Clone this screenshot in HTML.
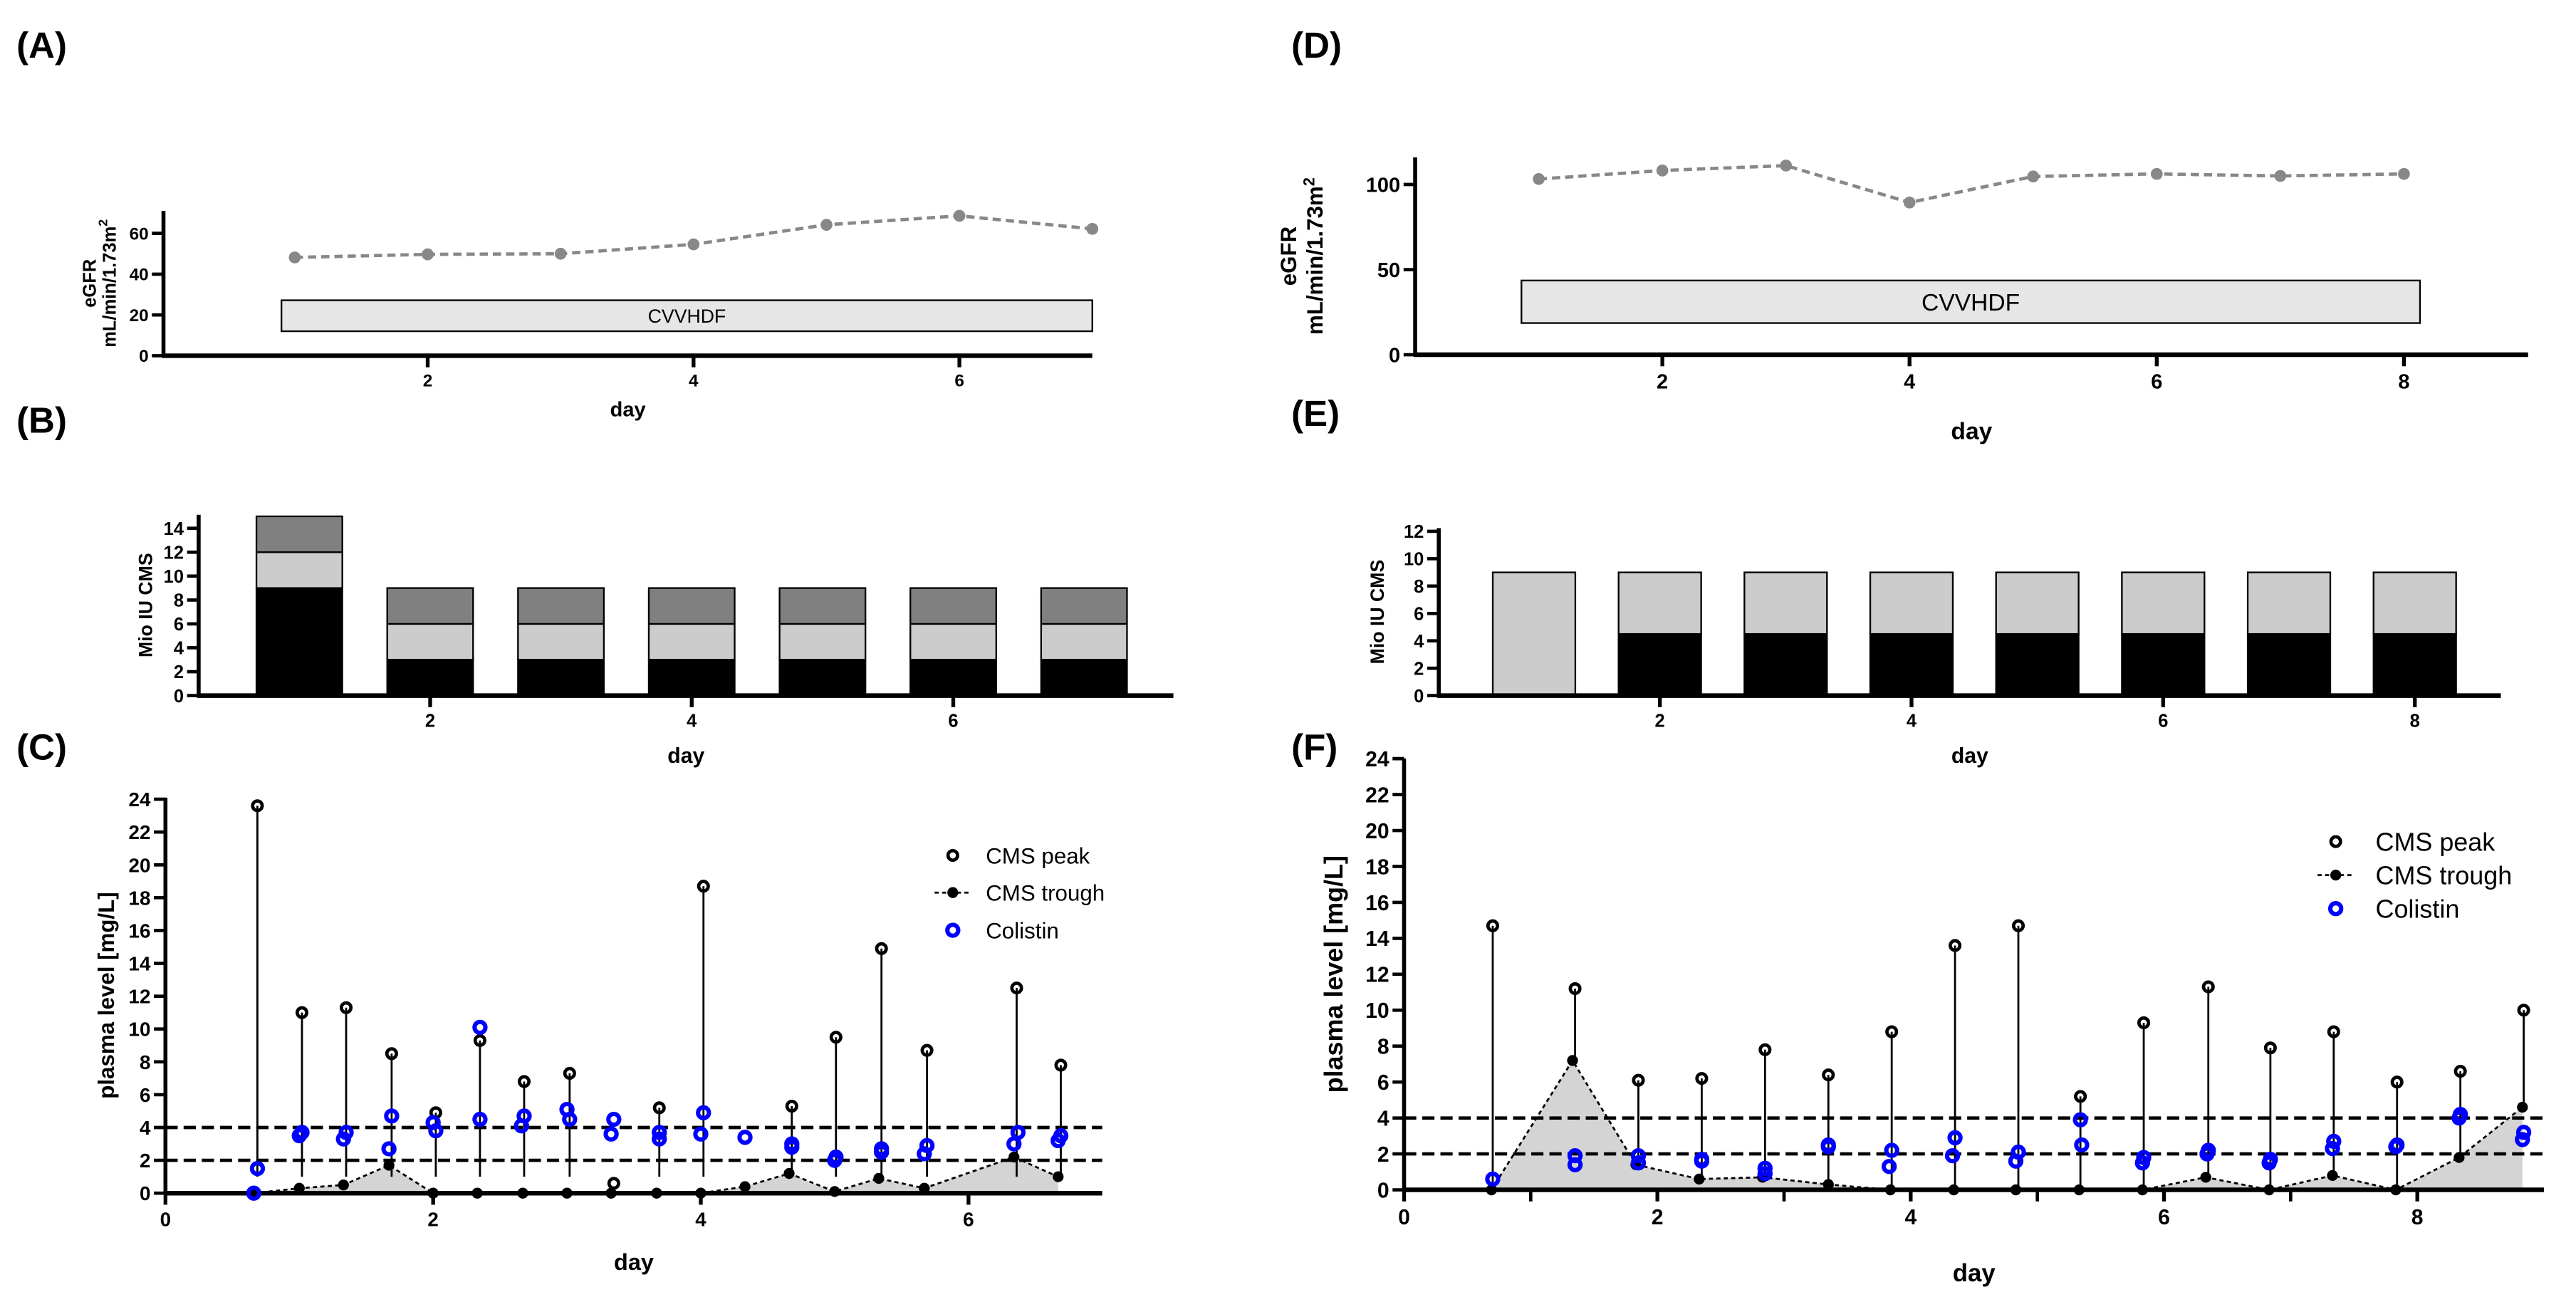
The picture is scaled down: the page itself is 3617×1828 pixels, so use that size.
<!DOCTYPE html>
<html><head><meta charset="utf-8"><style>
html,body{margin:0;padding:0;background:#fff;}
svg{display:block;}
text{font-family:"Liberation Sans",sans-serif;}
</style></head><body>
<svg id="fig" width="3617" height="1828" viewBox="0 0 1560 788.4" xmlns="http://www.w3.org/2000/svg">
<rect width="1560" height="788.4" fill="#fff"/>
<g font-weight="bold" font-size="22">
<text x="10" y="35">(A)</text>
<text x="10" y="262">(B)</text>
<text x="10" y="460">(C)</text>
<text x="782" y="35">(D)</text>
<text x="782" y="258">(E)</text>
<text x="782" y="460">(F)</text>
</g>
<g id="plots"></g>
</svg>
<script>
// ---- Panel A data ----
const aDays=[1,2,3,4,5,6,7];
const aEgfr=[48.2,49.7,50,54.6,64.2,68.6,62.2];
const aYTicks=[0,20,40,60];
const aXTicks=[2,4,6];
// ---- Panel D data ----
const dDays=[1,2,3,4,5,6,7,8];
const dEgfr=[103.2,108.2,111.1,89.4,104.7,106.2,105,106.2];
const dYTicks=[0,50,100];
const dXTicks=[2,4,6,8];
// ---- Panel B data ----
const bDays=[1,2,3,4,5,6,7];
const bBlack=[9,3,3,3,3,3,3];
const bLight=[3,3,3,3,3,3,3];
const bDark=[3,3,3,3,3,3,3];
const bYTicks=[0,2,4,6,8,10,12,14];
const bXTicks=[2,4,6];
// ---- Panel E data ----
const eDays=[1,2,3,4,5,6,7,8];
const eBlack=[0,4.5,4.5,4.5,4.5,4.5,4.5,4.5];
const eLight=[9,4.5,4.5,4.5,4.5,4.5,4.5,4.5];
const eYTicks=[0,2,4,6,8,10,12];
const eXTicks=[2,4,6,8];
// ---- Panel C data ----
const cPeakDays=[0.687,1.02,1.35,1.69,2.02,2.35,2.68,3.02,3.35,3.69,4.02,4.68,5.01,5.35,5.69,6.36,6.69];
const cPeak=[23.6,11.0,11.3,8.5,4.9,9.3,6.8,7.3,0.6,5.2,18.7,5.3,9.5,14.9,8.7,12.5,7.8];
const cTroughDays=[0.66,1.0,1.33,1.67,2.0,2.33,2.67,3.0,3.33,3.67,4.0,4.33,4.66,5.0,5.33,5.67,6.34,6.67];
const cTrough=[0,0.3,0.5,1.7,0,0,0,0,0,0,0,0.4,1.2,0.1,0.9,0.3,2.2,1.0];
const cColDays=[0.687,0.66,1.02,1.0,1.35,1.33,1.69,1.67,2.0,2.02,2.35,2.35,2.66,2.68,3.0,3.02,3.35,3.33,3.69,3.69,4.02,4.0,4.33,4.68,4.68,5.01,5.0,5.35,5.35,5.69,5.67,6.37,6.34,6.69,6.67];
const cCol=[1.5,0,3.7,3.5,3.7,3.3,4.7,2.7,4.3,3.8,10.1,4.5,4.1,4.7,5.1,4.5,4.5,3.6,3.7,3.3,4.9,3.6,3.4,3.0,2.8,2.2,2.0,2.7,2.5,2.9,2.4,3.7,3.0,3.5,3.2];
const cYTicks=[0,2,4,6,8,10,12,14,16,18,20,22,24];
const cXTicks=[0,2,4,6];
// ---- Panel F data ----
const fPeakDays=[0.70,1.35,1.85,2.35,2.85,3.35,3.85,4.35,4.85,5.34,5.84,6.35,6.84,7.34,7.84,8.34,8.84];
const fPeak=[14.7,11.2,6.1,6.2,7.8,6.4,8.8,13.6,14.7,5.2,9.3,11.3,7.9,8.8,6.0,6.6,10.0];
const fTroughDays=[0.69,1.33,1.83,2.33,2.83,3.35,3.84,4.34,4.83,5.33,5.83,6.33,6.83,7.33,7.83,8.33,8.83];
const fTrough=[0,7.2,1.4,0.6,0.7,0.3,0,0,0,0,0,0.7,0,0.8,0,1.8,4.6];
const fColDays=[0.70,1.35,1.35,1.85,1.85,2.35,2.35,2.85,2.85,3.35,3.35,3.85,3.83,4.35,4.33,4.85,4.83,5.34,5.35,5.84,5.83,6.35,6.34,6.84,6.83,7.34,7.33,7.84,7.83,8.34,8.33,8.84,8.83];
const fCol=[0.6,1.9,1.4,1.9,1.5,1.7,1.6,1.2,0.9,2.5,2.4,2.2,1.3,2.9,1.9,2.1,1.6,3.9,2.5,1.8,1.5,2.2,2.0,1.7,1.5,2.7,2.3,2.5,2.4,4.2,4.0,3.2,2.8];
const fYTicks=[0,2,4,6,8,10,12,14,16,18,20,22,24];
const fXTicks=[0,2,4,6,8];
const fMinorTicks=[1,3,5,7];

const NS="http://www.w3.org/2000/svg";
const root=document.getElementById('plots');
function mk(tag,attrs,parent){const e=document.createElementNS(NS,tag);for(const k in attrs)e.setAttribute(k,attrs[k]);(parent||root).appendChild(e);return e;}
function txt(s,attrs,parent){const e=mk('text',attrs,parent);e.textContent=s;return e;}
function scales(p){return {x:d=>p.day0+d*p.dayW,y:v=>p.y0-v*p.unit};}

function axes(p,g,yt,xt,fs,xLabelY,yLabelLines,yLabelX,minor){
  const s=scales(p);
  const ya=mk('line',{x1:p.ax,y1:p.top,x2:p.ax,y2:p.y0+1,stroke:'#000','stroke-width':2.4},g);
  
  const xa=mk('line',{x1:p.ax-1,y1:p.y0,x2:p.xend,y2:p.y0,stroke:'#000','stroke-width':2.8},g);
  
  yt.forEach(v=>{mk('line',{x1:p.ax-7,y1:s.y(v),x2:p.ax,y2:s.y(v),stroke:'#000','stroke-width':2},g);
    const t=txt(String(v),{x:p.ax-9,y:s.y(v)+fs*0.36,'text-anchor':'end','font-size':fs,'font-weight':'bold'},g);
    });
  xt.forEach(d=>{mk('line',{x1:s.x(d),y1:p.y0,x2:s.x(d),y2:p.y0+7,stroke:'#000','stroke-width':2.3},g);
    const t=txt(String(d),{x:s.x(d),y:p.y0+8+fs*1.0,'text-anchor':'middle','font-size':fs,'font-weight':'bold'},g);
    });
  (minor||[]).forEach(d=>{mk('line',{x1:s.x(d),y1:p.y0,x2:s.x(d),y2:p.y0+7,stroke:'#000','stroke-width':2},g);});
  const xl=txt('day',{x:(p.ax+p.xend)/2,y:xLabelY,'text-anchor':'middle','font-size':fs+2,'font-weight':'bold'},g);
  
  const cy=(p.top+p.y0)/2;
  yLabelLines.forEach((l,i)=>{const t=txt('',{x:0,y:0,'text-anchor':'middle','font-size':l.fs,'font-weight':'bold',transform:`translate(${yLabelX[i]},${cy}) rotate(-90)`},g);
    t.innerHTML=l.html;
    });
  return s;
}

function egfrPanel(name,p,days,vals,yt,xt,box,fs,xLabelY,yLabX,yfs,boxfs){
  const g=mk('g',{});
  const s=axes(p,g,yt,xt,fs,xLabelY,[{html:'eGFR',fs:yfs},{html:'mL/min/1.73m<tspan dy="-5" font-size="'+(yfs*0.7)+'">2</tspan>',fs:yfs}],yLabX);
  const r=mk('rect',{x:s.x(box[0]),y:s.y(box[3]),width:s.x(box[1])-s.x(box[0]),height:s.y(box[2])-s.y(box[3]),fill:'#e6e6e6',stroke:'#000','stroke-width':1},g);
  
  const bt=txt('CVVHDF',{x:(s.x(box[0])+s.x(box[1]))/2,y:(s.y(box[3])+s.y(box[2]))/2+boxfs*0.36,'text-anchor':'middle','font-size':boxfs},g);
  
  const pl=mk('polyline',{points:days.map((d,i)=>s.x(d)+','+s.y(vals[i])).join(' '),fill:'none',stroke:'#888','stroke-width':2,'stroke-dasharray':'5,3'},g);
  
  days.forEach((d,i)=>{const c=mk('circle',{cx:s.x(d),cy:s.y(vals[i]),r:3.6,fill:'#888'},g);
    });
}

function barPanel(name,p,days,stacks,colors,yt,xt,bw,fs,xLabelY,yLabX,yfs){
  const g=mk('g',{});
  const s=scales(p);
  days.forEach((d,i)=>{let base=0;stacks.forEach((arr,k)=>{const v=arr[i];if(v>0){
      const r=mk('rect',{x:s.x(d)-bw/2,y:s.y(base+v),width:bw,height:v*p.unit,fill:colors[k],stroke:'#000','stroke-width':1},g);
      }
      base+=v;});});
  axes(p,g,yt,xt,fs,xLabelY,[{html:'Mio IU CMS',fs:yfs}],[yLabX]);
}

function levelPanel(name,p,pd,pv,td,tv,cd,cv,yt,xt,fs,xLabelY,yLabX,yfs,stemToOne,leg,minor){
  const g=mk('g',{});
  const s=scales(p);
  const pts=[s.x(td[0])+','+s.y(0)].concat(td.map((d,i)=>s.x(d)+','+s.y(tv[i]))).concat([s.x(td[td.length-1])+','+s.y(0)]);
  const ar=mk('polygon',{points:pts.join(' '),fill:'#d4d4d4'},g);
  
  [2,4].forEach(v=>{const l=mk('line',{x1:p.ax,y1:s.y(v),x2:p.xend,y2:s.y(v),stroke:'#000','stroke-width':2,'stroke-dasharray':'7.4,3.6'},g);
    });
  pd.forEach((d,i)=>{const lo=stemToOne?1:tv[i]!==undefined?tv[i]:0;
    const l=mk('line',{x1:s.x(d),y1:s.y(pv[i]),x2:s.x(d),y2:s.y(Math.min(lo,pv[i])),stroke:'#000','stroke-width':1.2},g);
    });
  const tl=mk('polyline',{points:td.map((d,i)=>s.x(d)+','+s.y(tv[i])).join(' '),fill:'none',stroke:'#000','stroke-width':1.2,'stroke-dasharray':'2.5,2'},g);
  
  axes(p,g,yt,xt,fs,xLabelY,[{html:'plasma level [mg/L]',fs:yfs}],[yLabX],minor);
  td.forEach((d,i)=>{const c=mk('circle',{cx:s.x(d),cy:s.y(tv[i]),r:3.3,fill:'#000'},g);
    });
  pd.forEach((d,i)=>{const c=mk('circle',{cx:s.x(d),cy:s.y(pv[i]),r:2.9,fill:'none',stroke:'#000','stroke-width':2},g);
    });
  cd.forEach((d,i)=>{const c=mk('circle',{cx:s.x(d),cy:s.y(cv[i]),r:3.3,fill:'none',stroke:'#0000ff','stroke-width':2.6},g);
    });
  const lg=mk('g',{},g);
  const [mx,tx,ys,lfs]=leg;
  const e1=mk('g',{},lg);
  mk('circle',{cx:mx,cy:ys[0],r:2.9,fill:'none',stroke:'#000','stroke-width':2},e1);
  txt('CMS peak',{x:tx,y:ys[0]+lfs*0.36,'font-size':lfs},e1);
  const e2=mk('g',{},lg);
  mk('line',{x1:mx-11,y1:ys[1],x2:mx+11,y2:ys[1],stroke:'#000','stroke-width':1.2,'stroke-dasharray':'2.5,2'},e2);
  mk('circle',{cx:mx,cy:ys[1],r:3.3,fill:'#000'},e2);
  txt('CMS trough',{x:tx,y:ys[1]+lfs*0.36,'font-size':lfs},e2);
  const e3=mk('g',{},lg);
  mk('circle',{cx:mx,cy:ys[2],r:3.3,fill:'none',stroke:'#0000ff','stroke-width':2.6},e3);
  txt('Colistin',{x:tx,y:ys[2]+lfs*0.36,'font-size':lfs},e3);
}

egfrPanel('panel-a-egfr',{ax:99,day0:98,dayW:80.5,y0:215.4,unit:1.235,top:127.7,xend:661.5},aDays,aEgfr,aYTicks,aXTicks,[0.9,7.0,12,27.2],10.5,252,[58,70],11,11.5);
egfrPanel('panel-d-egfr',{ax:857,day0:857,dayW:74.85,y0:214.8,unit:1.031,top:95.3,xend:1531},dDays,dEgfr,dYTicks,dXTicks,[0.86,8.13,18.6,43.6],12.5,266,[785,801],13.5,14.5);
barPanel('panel-b-dose',{ax:120.3,day0:102.1,dayW:79.2,y0:421.2,unit:7.236,top:311.7,xend:710.6},bDays,[bBlack,bLight,bDark],['#000','#cccccc','#808080'],bYTicks,bXTicks,52,11,462,92,11.5);
barPanel('panel-e-dose',{ax:871.3,day0:852.8,dayW:76.2,y0:421.2,unit:8.29,top:319.8,xend:1514.5},eDays,[eBlack,eLight],['#000','#cccccc'],eYTicks,eXTicks,50,11,462,838,11.5);
levelPanel('panel-c-plasma',{ax:100.2,day0:100.2,dayW:81.05,y0:722.5,unit:9.94,top:483,xend:667.5},cPeakDays,cPeak,cTroughDays,cTrough,cColDays,cCol,cYTicks,cXTicks,12,769,69,13.5,true,[577,597,[518,540.5,563.3],13.5]);
levelPanel('panel-f-plasma',{ax:850.3,day0:850.3,dayW:76.7,y0:720.5,unit:10.88,top:459.3,xend:1540.6},fPeakDays,fPeak,fTroughDays,fTrough,fColDays,fCol,fYTicks,fXTicks,13,776,813,15.5,false,[1414.5,1438.6,[509.6,529.9,550.2],15.5],fMinorTicks);
</script>
</body></html>
